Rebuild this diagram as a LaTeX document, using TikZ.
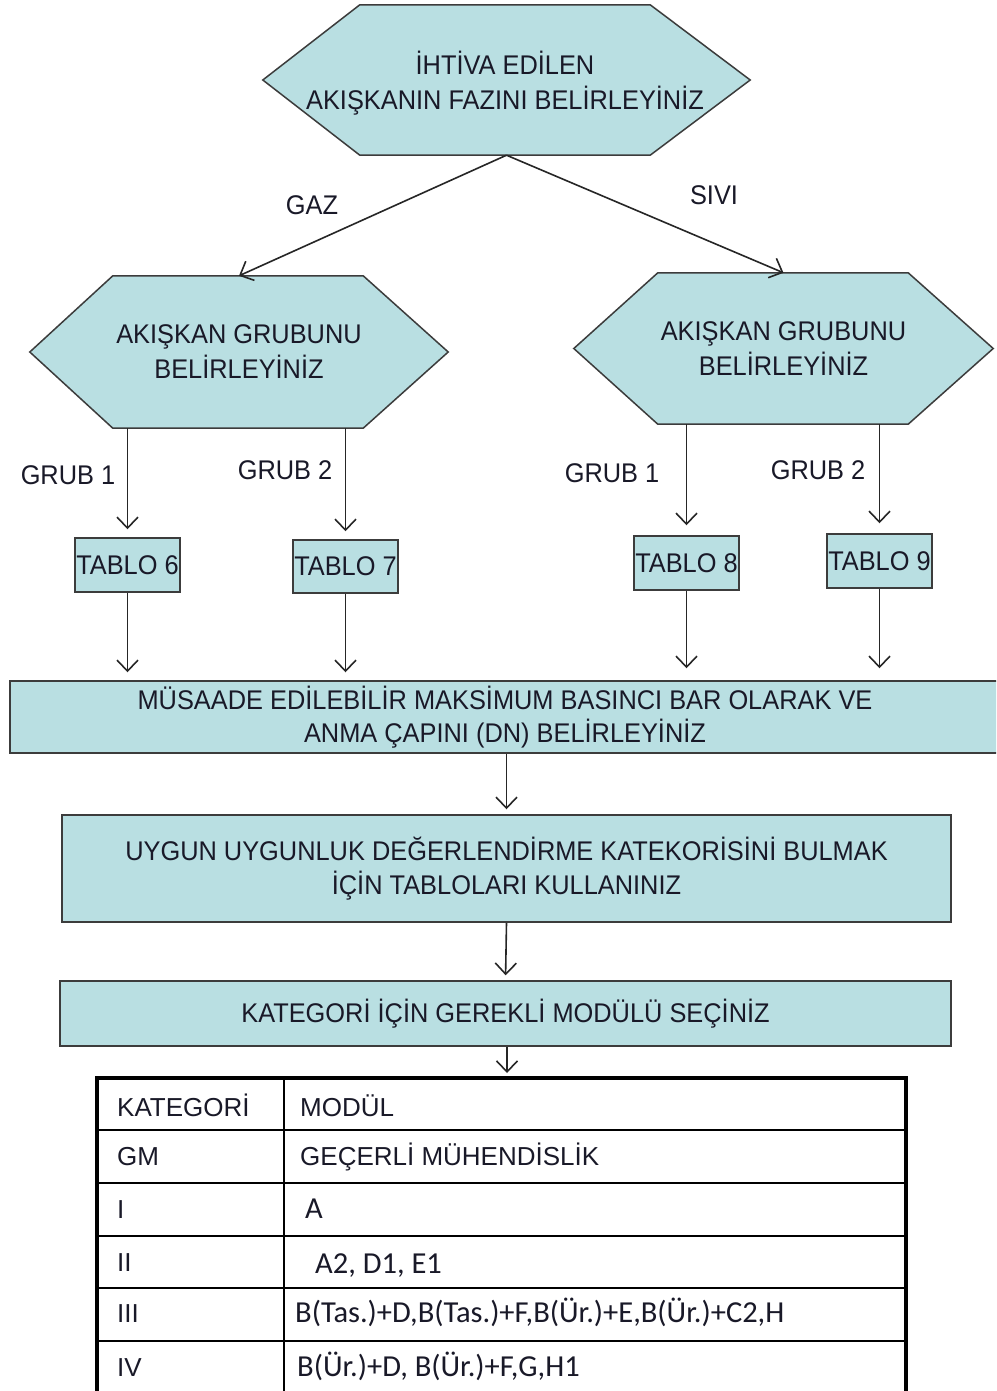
\documentclass[tikz,border=0pt]{standalone}
\usepackage{fontspec}
\setmainfont{Liberation Sans}
\newfontfamily\hexfont[FakeStretch=0.94]{Liberation Sans}
\newfontfamily\califont{Carlito}
\usetikzlibrary{arrows.meta}
\pgfdeclarelayer{bg}
\pgfsetlayers{bg,main}
\definecolor{boxfill}{RGB}{185,223,226}
\definecolor{edgec}{RGB}{60,60,60}
\definecolor{ink}{RGB}{25,25,40}
\begin{document}
\begin{tikzpicture}[x=1pt,y=-1pt,
  txt/.style={text=ink, font=\hexfont\fontsize{27}{35}\selectfont, align=center, inner sep=0pt},
  hexarea/.style={txt},
  hexshape/.style={draw=edgec, line width=1.5pt, fill=boxfill, line join=miter},
  tbox/.style={txt, draw=edgec, line width=1.5pt, fill=boxfill},
  lbl/.style={txt},
  arr/.style={draw=black!85, line width=1.6pt, -{Straight Barb[length=11pt,width=21pt,line width=1.6pt]}},
  tabtxt/.style={text=ink, font=\fontsize{26}{30}\selectfont, anchor=base west, inner sep=0pt},
  caltxt/.style={text=ink, font=\califont\fontsize{30.5}{34}\selectfont, anchor=base west, inner sep=0pt},
  tabline/.style={draw=black, line width=2pt},
  tabframe/.style={draw=black, line width=4pt}]
\useasboundingbox (0,0) rectangle (996,1391);
\clip (0,0) rectangle (996,1391);

% hexagon areas (text centred in them)
\node[hexarea, minimum width=487pt, minimum height=150pt] (top) at (506.5,80) {};
\node[txt] (toptext) at (505,83) {İHTİVA EDİLEN\\AKIŞKANIN FAZINI BELİRLEYİNİZ};
\node[hexarea, minimum width=418pt, minimum height=152pt] (lhex) at (239,352)
  {AKIŞKAN GRUBUNU\\BELİRLEYİNİZ};
\node[hexarea, minimum width=419pt, minimum height=151pt] (rhex) at (783.5,348.5)
  {AKIŞKAN GRUBUNU\\BELİRLEYİNİZ};

\begin{pgfonlayer}{bg}
\fill[white] (0,0) rectangle (996,1391);
\draw[hexshape] (top.west) -- ([xshift=97pt]top.north west) -- ([xshift=-100pt]top.north east)
  -- (top.east) -- ([xshift=-100pt]top.south east) -- ([xshift=97pt]top.south west) -- cycle;
\draw[hexshape] (lhex.west) -- ([xshift=83pt]lhex.north west) -- ([xshift=-85pt]lhex.north east)
  -- (lhex.east) -- ([xshift=-85pt]lhex.south east) -- ([xshift=83pt]lhex.south west) -- cycle;
\draw[hexshape] (rhex.west) -- ([xshift=84pt]rhex.north west) -- ([xshift=-85pt]rhex.north east)
  -- (rhex.east) -- ([xshift=-85pt]rhex.south east) -- ([xshift=84pt]rhex.south west) -- cycle;
\end{pgfonlayer}

% labels
\node[lbl] (gaz) at (312,205) {GAZ};
\node[lbl] (sivi) at (714,195) {SIVI};
\node[lbl] (g1l) at (68,475) {GRUB 1};
\node[lbl] (g2l) at (285,470) {GRUB 2};
\node[lbl] (g1r) at (612,473) {GRUB 1};
\node[lbl] (g2r) at (818,470) {GRUB 2};

% table boxes
\node[tbox, minimum width=105pt, minimum height=54pt] (t6) at (127.5,565) {TABLO 6};
\node[tbox, minimum width=105pt, minimum height=53pt] (t7) at (345.5,566.5) {TABLO 7};
\node[tbox, minimum width=105pt, minimum height=54pt] (t8) at (686.5,563) {TABLO 8};
\node[tbox, minimum width=105pt, minimum height=54pt] (t9) at (879.5,561) {TABLO 9};

% main boxes
\node[tbox, font=\hexfont\fontsize{27}{33}\selectfont, minimum width=990pt, minimum height=72pt] (b1) at (505,717)
  {MÜSAADE EDİLEBİLİR MAKSİMUM BASINCI BAR OLARAK VE\\ANMA ÇAPINI (DN) BELİRLEYİNİZ};
\node[tbox, font=\hexfont\fontsize{27}{34}\selectfont, minimum width=889pt, minimum height=107pt] (b2) at (506.5,868.5)
  {UYGUN UYGUNLUK DEĞERLENDİRME KATEKORİSİNİ BULMAK\\İÇİN TABLOLARI KULLANINIZ};
\node[tbox, minimum width=891pt, minimum height=65pt] (b3) at (505.5,1013.5)
  {KATEGORİ İÇİN GEREKLİ MODÜLÜ SEÇİNİZ};

% connectors
\draw[arr] (top.south) -- (lhex.north);
\draw[arr] (top.south) -- (rhex.north);
\draw[arr, shorten >=8pt] (t6.north |- lhex.south) -- (t6.north);
\draw[arr, shorten >=8pt] (t7.north |- lhex.south) -- (t7.north);
\draw[arr, shorten >=10pt] (t8.north |- rhex.south) -- (t8.north);
\draw[arr, shorten >=10pt] (t9.north |- rhex.south) -- (t9.north);
\draw[arr, shorten >=8pt] (t6.south) -- (t6.south |- b1.north);
\draw[arr, shorten >=8pt] (t7.south) -- (t7.south |- b1.north);
\draw[arr, shorten >=12pt] (t8.south) -- (t8.south |- b1.north);
\draw[arr, shorten >=12pt] (t9.south) -- (t9.south |- b1.north);
\draw[arr, shorten >=5pt] (b1.south -| b2.north) -- (b2.north);
\draw[arr, shorten >=5pt] (b2.south) -- (b3.north);

% result table
\coordinate (tabtop) at (507,1078);
\draw[arr, shorten >=5pt] (b3.south -| tabtop) -- (tabtop);
\draw[tabline] (97,1130) -- (906,1130);
\draw[tabline] (97,1183) -- (906,1183);
\draw[tabline] (97,1236) -- (906,1236);
\draw[tabline] (97,1288) -- (906,1288);
\draw[tabline] (97,1341) -- (906,1341);
\draw[tabline] (284,1078) -- (284,1400);
\draw[tabframe] (97,1400) -- (97,1078) -- (906,1078) -- (906,1400);

\node[tabtxt] (c11) at (117,1116) {KATEGORİ};
\node[tabtxt] (c12) at (300,1116) {MODÜL};
\node[tabtxt] (c21) at (117,1165) {GM};
\node[tabtxt] (c22) at (300,1165) {GEÇERLİ MÜHENDİSLİK};
\node[tabtxt] (c31) at (117,1218) {I};
\node[caltxt] (c32) at (305,1218) {A};
\node[tabtxt] (c41) at (117,1271) {II};
\node[caltxt] (c42) at (315,1273) {A2, D1, E1};
\node[tabtxt] (c51) at (117,1322) {III};
\node[caltxt] (c52) at (295,1322) {B(Tas.)+D,B(Tas.)+F,B(Ür.)+E,B(Ür.)+C2,H};
\node[tabtxt] (c61) at (117,1376) {IV};
\node[caltxt] (c62) at (297,1376) {B(Ür.)+D, B(Ür.)+F,G,H1};
\end{tikzpicture}
\end{document}
